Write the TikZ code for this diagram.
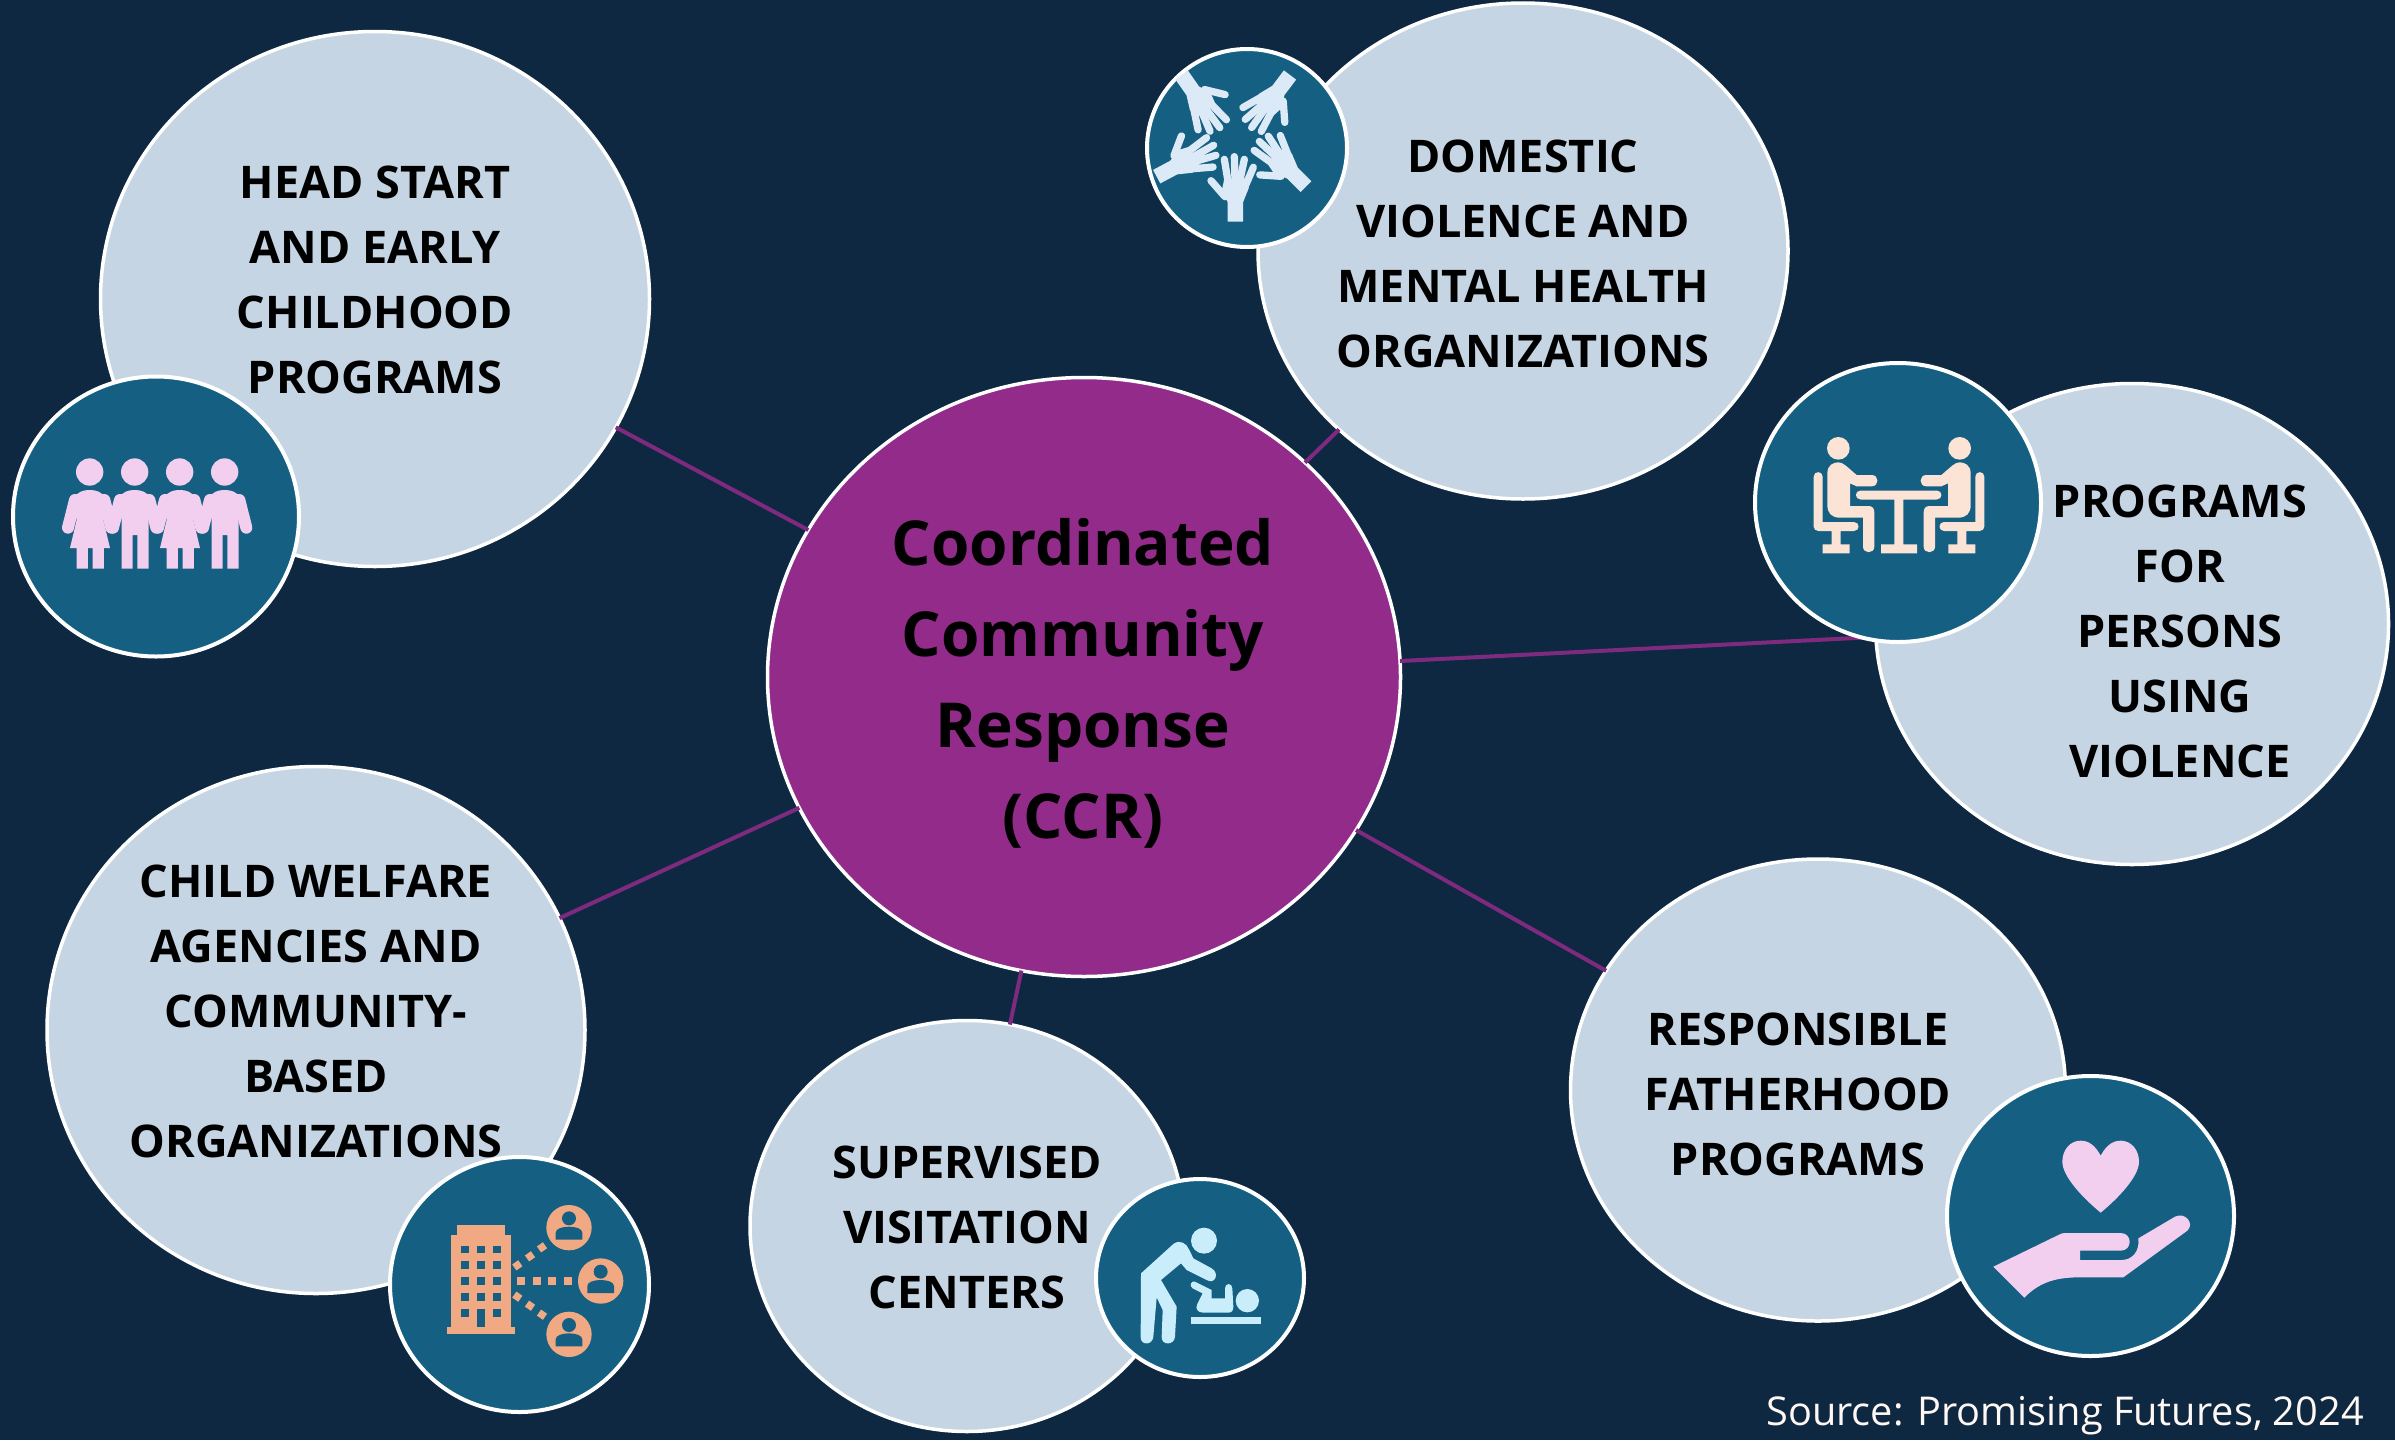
\documentclass[tikz,border=0pt]{standalone}
\usepackage{fontspec}
\setmainfont{Open Sans}
\usetikzlibrary{shapes.geometric}
\definecolor{bgnavy}{HTML}{0E2841}
\definecolor{teal}{HTML}{156082}
\definecolor{bubble}{HTML}{C6D5E4}
\definecolor{ccrpurple}{HTML}{932B8B}
\definecolor{linkpurple}{HTML}{7E2A7E}
\definecolor{pinkicon}{HTML}{F2CEEF}
\definecolor{peachicon}{HTML}{FBE3D6}
\definecolor{paleblue}{HTML}{DCEAF7}
\definecolor{skyicon}{HTML}{C9EDFB}
\definecolor{orangeicon}{HTML}{F1A983}
\tikzset{
  bubblenode/.style={ellipse,draw=white,line width=3.5pt,fill=bubble,inner sep=0pt,outer sep=0pt},
  iconnode/.style={ellipse,draw=white,line width=4pt,fill=teal,inner sep=0pt,outer sep=0pt},
  hubnode/.style={ellipse,draw=white,line width=3.5pt,fill=ccrpurple,inner sep=0pt,outer sep=0pt},
  link/.style={draw=linkpurple,line width=4pt},
  labeltext/.style={align=center,inner sep=0pt,font=\fontsize{45}{65}\selectfont\bfseries,text=black},
  hubtext/.style={align=center,inner sep=0pt,font=\fontsize{62}{91}\selectfont\bfseries,text=black},
}
\newcommand{\girlfig}[1]{\begin{scope}[shift={(#1,0)}]
  \fill (0,366) circle (41);
  \draw[line width=12pt,line cap=round] (-44,450) -- (-65,533) (44,450) -- (65,533);
  \fill (-50,445) .. controls (-35,425) and (-20,420) .. (0,420) .. controls (20,420) and (35,425) .. (50,445) -- (41,510) -- (61,594) -- (43,594) -- (43,656) -- (9,656) -- (9,594) -- (-5,594) -- (-5,656) -- (-39,656) -- (-39,594) -- (-59,594) -- (-39,510) -- cycle;
\end{scope}}
\newcommand{\boyfig}[1]{\begin{scope}[shift={(#1,0)}]
  \fill (0,366) circle (41);
  \draw[line width=12pt,line cap=round] (-44,450) -- (-65,533) (44,450) -- (65,533);
  \fill (-50,445) .. controls (-35,425) and (-20,420) .. (0,420) .. controls (20,420) and (35,425) .. (50,445) -- (42,510) -- (42,656) -- (8,656) -- (8,555) -- (-6,555) -- (-6,656) -- (-39,656) -- (-39,510) -- cycle;
\end{scope}}
\newcommand{\handfig}[3]{\begin{scope}[shift={(#1,#2)},rotate=#3,line width=7.3pt,line cap=round]
  \fill (-23,0) -- (23,0) -- (23,-58) -- (40,-100) -- (30,-130) -- (-33,-130) -- (-40,-95) -- (-23,-58) -- cycle;
  \draw (-31,-75) -- (-73,-123);
  \draw (-21,-115) -- (-33,-187);
  \draw (-1,-125) -- (-3,-195);
  \draw (14,-125) -- (27,-187);
  \draw (29,-105) -- (54,-163);
\end{scope}}
\newcommand{\sitter}{%
  \fill (295,295) circle (34);
  \fill (262,370) .. controls (262,345) and (280,337) .. (295,337) .. controls (310,337) and (320,350) .. (350,375) -- (395,375) .. controls (418,375) and (418,409) .. (395,409) -- (350,409) -- (330,400) -- (330,468) -- (385,468) .. controls (397,468) and (403,475) .. (403,487) -- (403,590) .. controls (403,612) and (369,612) .. (369,590) -- (369,503) -- (300,503) .. controls (275,503) and (262,490) .. (262,465) -- cycle;
  \fill (221,380) .. controls (221,362) and (248,362) .. (248,380) -- (248,516) -- (342,516) .. controls (360,516) and (360,543) .. (342,543) -- (302,543) -- (302,583) -- (329,583) -- (329,610) -- (248,610) -- (248,583) -- (275,583) -- (275,543) -- (235,543) .. controls (227,543) and (221,537) .. (221,530) -- cycle;
}
\newcommand{\worker}[2]{\begin{scope}[shift={(#1,#2)}]
  \fill (0,0) circle (68);
  \fill[teal] (0,-28) circle (21);
  \fill[teal] (-40,36) -- (-40,15) .. controls (-40,3) and (-20,-3) .. (0,-3) .. controls (20,-3) and (40,3) .. (40,15) -- (40,36) -- cycle;
\end{scope}}
\begin{document}
\begin{tikzpicture}[x=1pt,y=-1pt]
\useasboundingbox (0,0) rectangle (2395,1440);
\fill[bgnavy] (0,0) rectangle (2395,1440);
% bubbles
\node[hubnode,minimum width=633pt,minimum height=599pt] (ccr) at (1084,677) {};
\node[bubblenode,minimum width=549pt,minimum height=535pt] (head) at (375,299) {};
\node[bubblenode,minimum width=530pt,minimum height=496pt] (dom) at (1523,251) {};
\node[bubblenode,minimum width=513pt,minimum height=481pt] (prog) at (2132,624) {};
\node[bubblenode,minimum width=495pt,minimum height=462pt] (resp) at (1818,1090) {};
\node[bubblenode,minimum width=434pt,minimum height=411pt] (sup) at (967,1226) {};
\node[bubblenode,minimum width=538pt,minimum height=527pt] (child) at (316,1030) {};
% connectors
\draw[link] (ccr) -- (head);
\draw[link] (ccr) -- (dom);
\draw[link] (ccr) -- (prog);
\draw[link] (ccr) -- (resp);
\draw[link] (ccr) -- (sup);
\draw[link] (ccr) -- (child);
% icon discs
\node[iconnode,minimum width=286pt,minimum height=280pt] (famdisc) at (156,516.5) {};
\node[iconnode,minimum width=200pt,minimum height=198pt] (handsdisc) at (1247,148) {};
\node[iconnode,minimum width=286pt,minimum height=279pt] (tabledisc) at (1898,502.5) {};
\node[iconnode,minimum width=287pt,minimum height=280pt] (heartdisc) at (2090.5,1216) {};
\node[iconnode,minimum width=208pt,minimum height=198pt] (babydisc) at (1200,1278) {};
\node[iconnode,minimum width=259pt,minimum height=255pt] (builddisc) at (519.5,1284.5) {};
% family icon
\begin{scope}[shift={(0,350)},scale=1/3,fill=pinkicon,draw=pinkicon]
  \girlfig{269}\boyfig{404}\girlfig{539}\boyfig{674}
\end{scope}
% hands icon
\begin{scope}[shift={(1130,30)},scale=1/3,fill=paleblue,draw=paleblue]
  \handfig{316}{575}{0}
  \handfig{528}{470}{45}
  \handfig{155}{135}{215}
  \handfig{480}{135}{143}
  \handfig{80}{440}{-62}
\end{scope}
% table icon
\begin{scope}[shift={(1740,350)},scale=1/3,fill=peachicon,draw=peachicon]
  \sitter
  \begin{scope}[shift={(954,0)},xscale=-1]\sitter\end{scope}
  \fill (362,421.5) -- (590,421.5) .. controls (609,421.5) and (609,448.5) .. (590,448.5) -- (490,448.5) -- (490,583) -- (531,583) -- (531,610) -- (423,610) -- (423,583) -- (463,583) -- (463,448.5) -- (362,448.5) .. controls (343,448.5) and (343,421.5) .. (362,421.5) -- cycle;
\end{scope}
% heart and hand icon
\begin{scope}[shift={(1930,1060)},scale=1/3,fill=pinkicon]
  \fill (512,287) .. controls (495,255) and (475,242) .. (452,242) .. controls (420,242) and (397,270) .. (397,305) .. controls (397,350) and (460,415) .. (512,458) .. controls (564,415) and (627,350) .. (627,305) .. controls (627,270) and (604,242) .. (572,242) .. controls (549,242) and (529,255) .. (512,287) -- cycle;
  \fill (190,620) -- (385,525) .. controls (392,521) and (398,519) .. (405,519) -- (572,519) .. controls (608,519) and (608,572) .. (572,572) -- (450,572) -- (450,600) -- (575,600) .. controls (605,600) and (630,575) .. (625,535) -- (735,470) .. controls (765,455) and (795,490) .. (772,512) -- (580,652) -- (450,652) .. controls (380,652) and (330,665) .. (283,713) -- cycle;
\end{scope}
% parent and baby icon
\begin{scope}[shift={(1080,1170)},scale=1/3,fill=skyicon]
  \fill (372,212) circle (39);
  \fill (183,310) -- (280,222) .. controls (300,207) and (320,220) .. (328,240) -- (340,265) -- (395,295) .. controls (420,310) and (405,345) .. (380,330) -- (320,300) -- (303,280) -- (243,330) -- (290,410) -- (285,500) .. controls (283,527) and (243,527) .. (245,500) -- (248,420) -- (230,382) -- (220,500) .. controls (218,527) and (180,527) .. (182,500) -- cycle;
  \fill (502,392) circle (35);
  \fill (333,441) rectangle (543,462);
  \fill (345,335) -- (395,360) -- (395,385) -- (435,385) -- (435,355) .. controls (435,338) and (457,338) .. (457,355) -- (460,410) .. controls (460,422) and (455,428) .. (445,428) -- (370,428) .. controls (352,428) and (345,415) .. (352,402) -- (368,370) -- (338,355) .. controls (325,347) and (335,330) .. (345,335) -- cycle;
\end{scope}
% building icon
\begin{scope}[shift={(380,1150)},scale=1/3,fill=orangeicon]
  \fill (231,225) rectangle (375,255);
  \fill (214,255) rectangle (393,530);
  \fill (202,530) rectangle (404,551);
  \foreach \wy in {287,334,382,429,477} {
    \foreach \wx in {243,291,339} {
      \fill[teal] (\wx,\wy) rectangle ++(24,23);
    }
  }
  \fill[teal] (291,477) rectangle (315,530);
  \worker{567}{233}\worker{662}{393}\worker{567}{553}
  \foreach \dx in {411,459,504,552} { \fill (\dx,381) rectangle ++(24,24); }
  \foreach \cx/\cy/\ang in {412/346/35,450/319/35,486/292/35,412/440/-35,450/467/-35,486/494/-35} {
    \fill[shift={(\cx,\cy)},rotate=\ang] (-11,-11) rectangle (11,11);
  }
\end{scope}
% labels
\node[labeltext] (headlabel) at (375,280) {HEAD START\\AND EARLY\\CHILDHOOD\\PROGRAMS};
\node[labeltext] (domlabel) at (1523,254) {DOMESTIC\\VIOLENCE AND\\MENTAL HEALTH\\ORGANIZATIONS};
\node[labeltext] (proglabel) at (2180,631) {PROGRAMS\\FOR\\PERSONS\\USING\\VIOLENCE};
\node[labeltext] (resplabel) at (1798,1094) {RESPONSIBLE\\FATHERHOOD\\PROGRAMS};
\node[labeltext] (suplabel) at (967,1227) {SUPERVISED\\VISITATION\\CENTERS};
\node[labeltext] (childlabel) at (316,1011) {CHILD WELFARE\\AGENCIES AND\\COMMUNITY-\\BASED\\ORGANIZATIONS};
\node[hubtext] (ccrlabel) at (1083,683) {Coordinated\\Community\\Response\\(CCR)};
\node[anchor=east,inner sep=0pt,text=peachicon!30!white,font=\fontsize{39.7}{44}\selectfont] (source) at (2364,1416) {Source: Promising Futures, 2024};
\end{tikzpicture}
\end{document}
